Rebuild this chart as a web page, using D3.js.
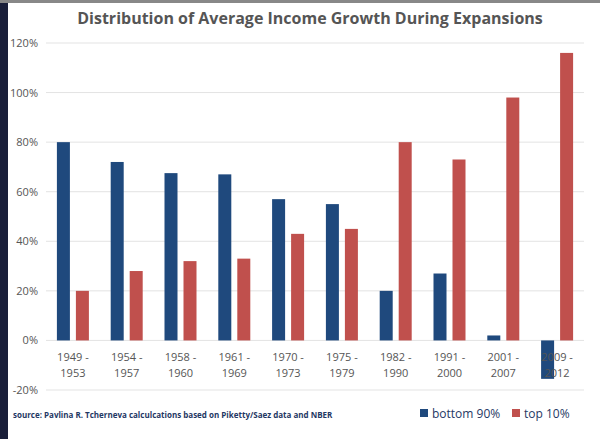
<!DOCTYPE html>
<html><head><meta charset="utf-8">
<script src="https://cdn.jsdelivr.net/npm/d3@7"></script>
<style>body{margin:0;background:#fff}svg{display:block;font-family:"Open Sans",sans-serif}</style>
</head><body><svg id="c" width="600" height="439"></svg>
<script>
const categories=["1949 - 1953","1954 - 1957","1958 - 1960","1961 - 1969","1970 - 1973","1975 - 1979","1982 - 1990","1991 - 2000","2001 - 2007","2009 - 2012"];
const bottom90=[80,72,67.5,67,57,55,20,27,2,-15.5];
const top10=[20,28,32,33,43,45,80,73,98,116];
const ticks=[-20,0,20,40,60,80,100,120];
const svg=d3.select("#c");
svg.append("rect").attr("x",0).attr("y",0).attr("width",8).attr("height",439).attr("fill","#1a1f3a");
svg.append("rect").attr("x",0).attr("y",0).attr("width",600).attr("height",3).attr("fill","#888");
const y=d3.scaleLinear().domain([-20,120]).range([390,43]);
const x=d3.scaleBand().domain(categories).range([46,584]);
const g=svg.append("g");
g.selectAll("line.g").data(ticks).join("line").attr("x1",46).attr("x2",584).attr("y1",d=>y(d)).attr("y2",d=>y(d)).attr("stroke","#e3e3e3");
g.selectAll("text.t").data(ticks).join("text").attr("x",38).attr("y",d=>y(d)+4).attr("text-anchor","end").attr("font-size",11).attr("fill","#555").text(d=>d+"%");
const bw=13;
g.selectAll("rect.b").data(categories).join("rect").attr("x",d=>x(d)+x.bandwidth()/2-bw-3).attr("width",bw)
 .attr("y",(d,i)=>y(Math.max(0,bottom90[i]))).attr("height",(d,i)=>Math.abs(y(bottom90[i])-y(0))).attr("fill","#1f497d");
g.selectAll("rect.r").data(categories).join("rect").attr("x",d=>x(d)+x.bandwidth()/2+3).attr("width",bw)
 .attr("y",(d,i)=>y(Math.max(0,top10[i]))).attr("height",(d,i)=>Math.abs(y(top10[i])-y(0))).attr("fill","#c0504d");
categories.forEach(c=>{const p=c.split(" - ");
 const t=g.append("text").attr("x",x(c)+x.bandwidth()/2).attr("text-anchor","middle").attr("font-size",11).attr("fill","#555");
 t.append("tspan").attr("x",x(c)+x.bandwidth()/2).attr("y",361).text(p[0]+" -");
 t.append("tspan").attr("x",x(c)+x.bandwidth()/2).attr("y",377).text(p[1]);});
svg.append("text").attr("x",310).attr("y",24).attr("text-anchor","middle").attr("font-size",16).attr("font-weight","bold").attr("fill","#555").text("Distribution of Average Income Growth During Expansions");
svg.append("text").attr("x",13).attr("y",418).attr("font-size",8).attr("font-weight","bold").attr("fill","#1f3864").text("source: Pavlina R. Tcherneva calculcations based on Piketty/Saez data and NBER");
const leg=[["bottom 90%","#1f497d",420],["top 10%","#c0504d",512]];
leg.forEach(l=>{svg.append("rect").attr("x",l[2]).attr("y",409).attr("width",8).attr("height",8).attr("fill",l[1]);
 svg.append("text").attr("x",l[2]+12).attr("y",418).attr("font-size",12).attr("fill","#1f3864").text(l[0]);});
</script></body></html>
